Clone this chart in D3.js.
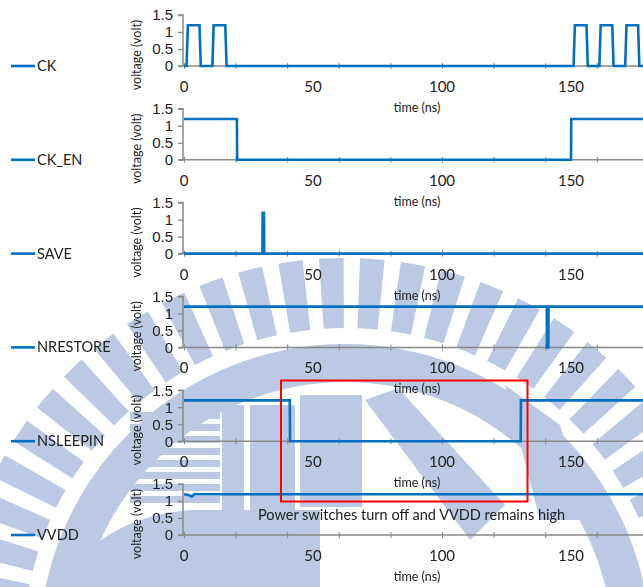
<!DOCTYPE html>
<html>
<head>
<meta charset="utf-8">
<script src="https://cdn.jsdelivr.net/npm/d3@7"></script>
<style>
  body { margin: 0; background: #fff; }
  svg { display: block; font-family: Lato, "Open Sans", sans-serif; }
</style>
</head>
<body>
<svg id="chart" width="643" height="587"></svg>
<script>
// signal names, one panel each
const signals = ['CK', 'CK_EN', 'SAVE', 'NRESTORE', 'NSLEEPIN', 'VVDD']

// waveforms: time (ns) and voltage (volt)
const ckTime = [0, 1, 1.5, 6, 6.5, 11, 11.5, 16, 16.5, 151, 151.5, 156, 156.5, 161, 161.5, 166, 166.5, 171, 171.5, 176, 176.5, 181, 181.5, 186, 186.5, 200]
const ckVolt = [0, 0, 1.2, 1.2, 0, 0, 1.2, 1.2, 0, 0, 1.2, 1.2, 0, 0, 1.2, 1.2, 0, 0, 1.2, 1.2, 0, 0, 1.2, 1.2, 0, 0]
const ckEnTime = [0, 20.5, 20.6, 150, 150.1, 200]
const ckEnVolt = [1.2, 1.2, 0, 0, 1.2, 1.2]
const saveTime = [0, 30.4, 30.5, 31, 31.1, 200]
const saveVolt = [0, 0, 1.2, 1.2, 0, 0]
const nrestoreTime = [0, 140.6, 140.7, 141.2, 141.3, 200]
const nrestoreVolt = [1.2, 1.2, 0, 0, 1.2, 1.2]
const nsleepinTime = [0, 41, 41.1, 130.5, 130.6, 200]
const nsleepinVolt = [1.2, 1.2, 0, 0, 1.2, 1.2]
const vvddTime = [0, 2, 3, 4, 200]
const vvddVolt = [1.2, 1.17, 1.13, 1.2, 1.2]

const timeTicks = [0, 50, 100, 150]
const minorTicks = [0, 20, 40, 60, 80, 100, 120, 140, 160, 180]
const voltTicks = [0, 0.5, 1, 1.5]
const voltLabels = ['0', '0.5', '1', '1.5']

const annotation = 'Power switches turn off and VVDD remains high'

const waves = [
  [ckTime, ckVolt], [ckEnTime, ckEnVolt], [saveTime, saveVolt],
  [nrestoreTime, nrestoreVolt], [nsleepinTime, nsleepinVolt], [vvddTime, vvddVolt]
]

const svg = d3.select('#chart')
const blue = '#0070c0'
const grey = '#898989'

// ---- watermark (faint logo behind the chart) ----
const wm = svg.append('g').attr('fill', '#b4c3e1').attr('opacity', 0.9)
const cx = 345, cy = 650
d3.range(-80, 81, 6).forEach(a => {
  const t0 = (a - 1.8) * Math.PI / 180
  const t1 = (a + 1.8) * Math.PI / 180
  wm.append('path').attr('d', d3.arc()({ innerRadius: 322, outerRadius: 392, startAngle: t0, endAngle: t1 }))
    .attr('transform', `translate(${cx},${cy})`)
})
wm.append('path')
  .attr('d', d3.arc()({ innerRadius: 268, outerRadius: 306, startAngle: -Math.PI * 0.48, endAngle: Math.PI * 0.48 }))
  .attr('transform', `translate(${cx},${cy})`)
// inner letter shapes
d3.range(0, 8).forEach(i => {
  wm.append('rect').attr('x', 130).attr('y', 412 + i * 12).attr('width', 90).attr('height', 7)
})
wm.append('rect').attr('x', 222).attr('y', 405).attr('width', 22).attr('height', 105)
wm.append('rect').attr('x', 250).attr('y', 405).attr('width', 45).attr('height', 105)
wm.append('rect').attr('x', 300).attr('y', 395).attr('width', 62).attr('height', 112)
wm.append('path').attr('d', 'M365,400 L398,388 L505,505 L470,540 Z')
wm.append('path').attr('d', 'M505,385 L560,425 L590,520 L540,520 Z')
wm.append('path').attr('d', 'M65,587 C80,540 140,510 200,510 L320,510 L320,587 Z')

// ---- x scale shared by all panels (axis runs past the right edge) ----
const x = d3.scaleLinear().domain([0, 200]).range([184, 700])

const panelTop = 15
const panelStep = 93.8
const plotH = 51

signals.forEach((name, i) => {
  const top = panelTop + i * panelStep
  const y = d3.scaleLinear().domain([0, 1.5]).range([top + plotH, top])
  const g = svg.append('g')
  const zero = y(0)

  // y axis
  const yAxis = d3.axisLeft(y).tickValues(voltTicks).tickSize(5)
    .tickFormat((d, k) => voltLabels[k])
  const ya = g.append('g').attr('transform', `translate(${x(0) - 1},0)`).call(yAxis)
  ya.select('.domain').attr('stroke', grey).attr('stroke-width', 1.5)
    .attr('d', `M-5,${y(1.5)}H0V${y(0)}`)
  ya.selectAll('.tick line').attr('stroke', grey).attr('stroke-width', 1.3)
  ya.selectAll('.tick text').attr('font-size', 15).attr('fill', '#222').attr('x', -10)

  // x axis
  const xa = g.append('g').attr('transform', `translate(0,${zero})`)
    .call(d3.axisBottom(x).tickValues(minorTicks).tickSize(3).tickFormat(''))
  xa.select('.domain').attr('stroke', grey).attr('stroke-width', 1.5)
    .attr('d', `M${x(0) - 6},0H${x(200)}`)
  xa.selectAll('.tick line').attr('stroke', grey).attr('y1', -3).attr('y2', 3)
  g.selectAll('.xlab').data(timeTicks).join('text')
    .attr('x', d => x(d)).attr('y', zero + 26)
    .attr('text-anchor', 'middle').attr('font-size', 15).attr('fill', '#222')
    .text(d => d)

  g.append('text').attr('x', 417).attr('y', zero + 46)
    .attr('text-anchor', 'middle').attr('font-size', 12.5).attr('fill', '#222')
    .text('time (ns)')

  g.append('text')
    .attr('transform', `translate(${141},${zero - 11}) rotate(-90)`)
    .attr('text-anchor', 'middle').attr('font-size', 12.5).attr('fill', '#222')
    .text('voltage (volt)')

  // waveform
  const [tt, vv] = waves[i]
  const line = d3.line().x(d => x(d[0])).y(d => y(d[1]))
  g.append('path').datum(d3.zip(tt, vv)).attr('d', line)
    .attr('fill', 'none').attr('stroke', blue).attr('stroke-width', 2.6)
    .attr('stroke-linejoin', 'miter')

  // legend
  g.append('line').attr('x1', 11).attr('x2', 35).attr('y1', zero).attr('y2', zero)
    .attr('stroke', blue).attr('stroke-width', 2.6)
  g.append('text').attr('x', 37).attr('y', zero).attr('dy', '0.35em')
    .attr('font-size', 14.5).attr('fill', '#222').text(name)
})

// highlight box and annotation
svg.append('rect').attr('x', 281).attr('y', 380.5).attr('width', 246.5).attr('height', 121)
  .attr('fill', 'none').attr('stroke', '#ff0000').attr('stroke-width', 2)
svg.append('text').attr('x', 258).attr('y', 520).attr('font-size', 14.5).attr('fill', '#222')
  .text(annotation)
</script>
</body>
</html>
